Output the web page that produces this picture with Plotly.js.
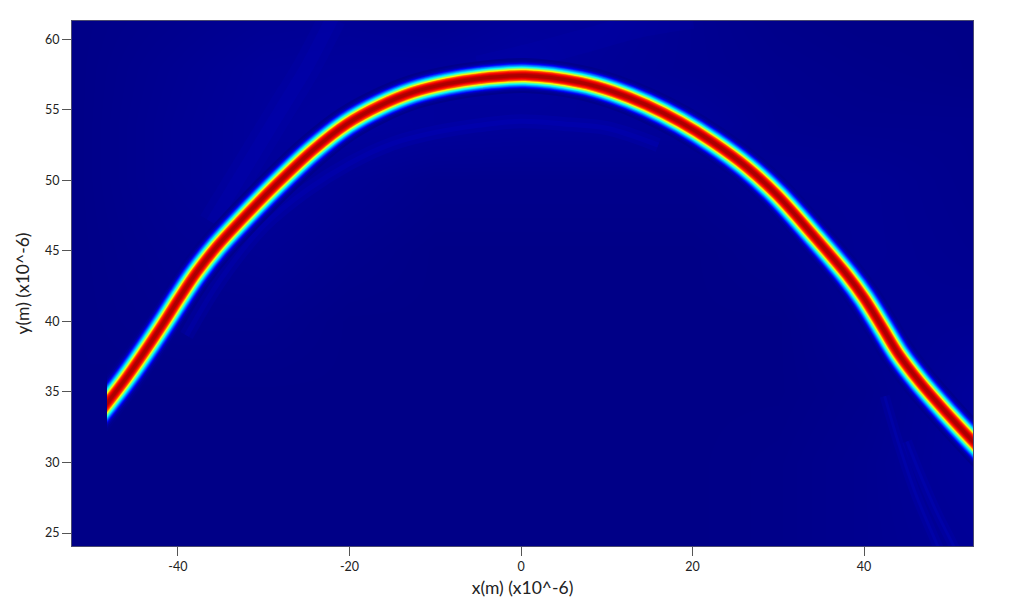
<!DOCTYPE html>
<html><head><meta charset="utf-8">
<script src="https://cdn.plot.ly/plotly-3.0.1.min.js"></script>
<style>html,body{margin:0;padding:0;background:#fff}</style></head>
<body><div id="chart" style="width:1010px;height:607px"></div>
<script>
// Ridge of the beam
const ridgeX = [-50.5,-48.29,-45.96,-43.24,-41.3,-39.74,-37.8,-35.47,-32.75,-28.47,-24.24,-20.31,-16.43,-12.59,-8.66,-4.78,0.5,6.88,10.72,14.65,18.53,22.38,26.3,29.8,34,38,40,42,44,46.5,49.65,52.68,55.5];
const ridgeY = [32.5,34.18,36.05,38.45,40.25,41.75,43.5,45.3,47.1,49.75,52.15,54,55.3,56.25,56.85,57.22,57.43,56.95,56.3,55.35,54.15,52.7,50.95,49,46.15,43.3,41.65,39.7,37.7,35.7,33.5,31.5,29.7];
// Faint secondary fringes
const fringeAX = [-39,-35,-30,-25,-20,-15,-10,-5,0,5,10,16];
const fringeAY = [39,43,46.8,49.3,51.2,52.6,53.4,53.9,54.2,54,53.7,52.5];
const fringeBX = [42.4,44,46,48.5,49];
const fringeBY = [34.7,31.4,27.8,24.2,23.5];
const fringeCX = [45,46.85,48.6,50.35,51];
const fringeCY = [31.5,28.7,26.3,24.2,23.4];
const fringeDX = [-36,-33,-30,-28,-25,-22];
const fringeDY = [47,50,53,55,58,61.5];
const fringeEX = [-5,2,8,14,20];
const fringeEY = [58,59,60,61,61.6];
// Dim background field
const bgX = [-52.5,-40,-30,-20,-10,0,10,20,30,40,53];
const bgY = [24,30,35,40,45,50,54,58,61.5];
const bgZ = [
 [0,0,0,0,0,0,0,0,.002,.008,.015],
 [0,0,0,0,0,0,0,0,.002,.008,.02],
 [0,0,0,0,0,0,0,0,0,.005,.02],
 [0,.005,.005,0,0,0,0,0,0,.01,.012],
 [0,.008,.012,.005,0,0,0,0,.005,.012,.008],
 [0,.012,.02,.012,.005,.005,.005,.005,.012,.012,.006],
 [0,.012,.02,.024,.02,.018,.018,.018,.008,.006,.006],
 [0,.01,.018,.02,.02,.024,.015,.01,.006,.003,0],
 [0,.006,.012,.014,.01,.018,.018,.01,.003,0,0]];
const xTicks = [-40,-20,0,20,40];
const yTicks = [25,30,35,40,45,50,55,60];
const xTitle = 'x(m) (x10^-6)';
const yTitle = 'y(m) (x10^-6)';

// Styling of the band, from its outer glow to its core
const bandWidths = [35,31,28,26,24.6,23.7,22.8,21.9,21,20.1,19.2,18.3,17.4,16.6,15.9,15.2,14.5,13.9,13.3,12.7,12.1,11.5,10.9,10.3,9.5,8.2,6.6,5,3.2];
const bandColours = ['#00008c','#000098','#0000b0','#0000d0','#0000f0','#0010ff','#0030ff','#0050ff','#0070ff','#0090ff','#00b0ff','#00d0ff','#00f8ff','#20ffdf','#40ffbf','#60ff9f','#80ff80','#a0ff60','#c0ff40','#e0ff20','#ffff00','#ffd000','#ffa000','#ff7000','#ff4000','#ff1000','#e60000','#c80000','#ac0000'];
const jet = [[0,'#00007f'],[.125,'#0000ff'],[.375,'#00ffff'],[.625,'#ffff00'],[.875,'#ff0000'],[1,'#7f0000']];

const traces = [{type:'heatmap',x:bgX,y:bgY,z:bgZ,zmin:-.008,zmax:1,zsmooth:'best',colorscale:jet,showscale:false,hoverinfo:'skip'}];
function fringe(x,y,w,c){traces.push({type:'scatter',mode:'lines',x:x,y:y,line:{color:c,width:w,shape:'spline'},hoverinfo:'skip',showlegend:false});}
fringe(fringeDX,fringeDY,28,'rgba(0,0,230,0.08)');
fringe(fringeDX,fringeDY,13,'rgba(0,0,230,0.1)');
fringe(fringeEX,fringeEY,24,'rgba(0,0,230,0.08)');
fringe(fringeAX,fringeAY,14,'rgba(0,0,255,0.09)');
fringe(fringeAX,fringeAY,5,'rgba(0,0,255,0.1)');
fringe(fringeBX,fringeBY,10,'rgba(0,0,255,0.09)');
fringe(fringeBX,fringeBY,3,'rgba(0,20,255,0.12)');
fringe(fringeCX,fringeCY,10,'rgba(0,0,255,0.09)');
fringe(fringeCX,fringeCY,3,'rgba(0,20,255,0.12)');
bandWidths.forEach((w,i)=>{
  traces.push({type:'scatter',mode:'lines',x:ridgeX,y:ridgeY,
    line:{color:bandColours[i],width:w,shape:'spline'},hoverinfo:'skip',showlegend:false});
});

const font = 'Lato, "Open Sans", sans-serif';
Plotly.newPlot('chart',traces,{
  width:1010,height:607,showlegend:false,
  margin:{l:72,r:37,t:21,b:61,pad:0},
  paper_bgcolor:'#fff',plot_bgcolor:'#000087',
  font:{family:font,color:'#222',size:12},
  xaxis:{range:[-52.35,52.7],tickvals:xTicks,ticktext:xTicks.map(String),ticks:'outside',ticklen:9,tickcolor:'#555',tickwidth:1,
    showgrid:false,zeroline:false,showline:true,linecolor:'#4a4a70',linewidth:1,mirror:true,tickfont:{size:12.5,family:font},
    title:{text:xTitle,font:{size:17.5,family:font},standoff:8}},
  yaxis:{range:[24.08,61.3],tickvals:yTicks,ticktext:yTicks.map(String),ticks:'outside',ticklen:9,tickcolor:'#555',tickwidth:1,
    showgrid:false,zeroline:false,showline:true,linecolor:'#4a4a70',linewidth:1,mirror:true,tickfont:{size:12.5,family:font},
    title:{text:yTitle,font:{size:17.5,family:font},standoff:10}},
  shapes:[{type:'rect',xref:'x',yref:'y',x0:-52.35,x1:-48.27,y0:31,y1:37,fillcolor:'#000087',line:{width:0},layer:'above'}]
},{staticPlot:true,displayModeBar:false});
</script></body></html>
